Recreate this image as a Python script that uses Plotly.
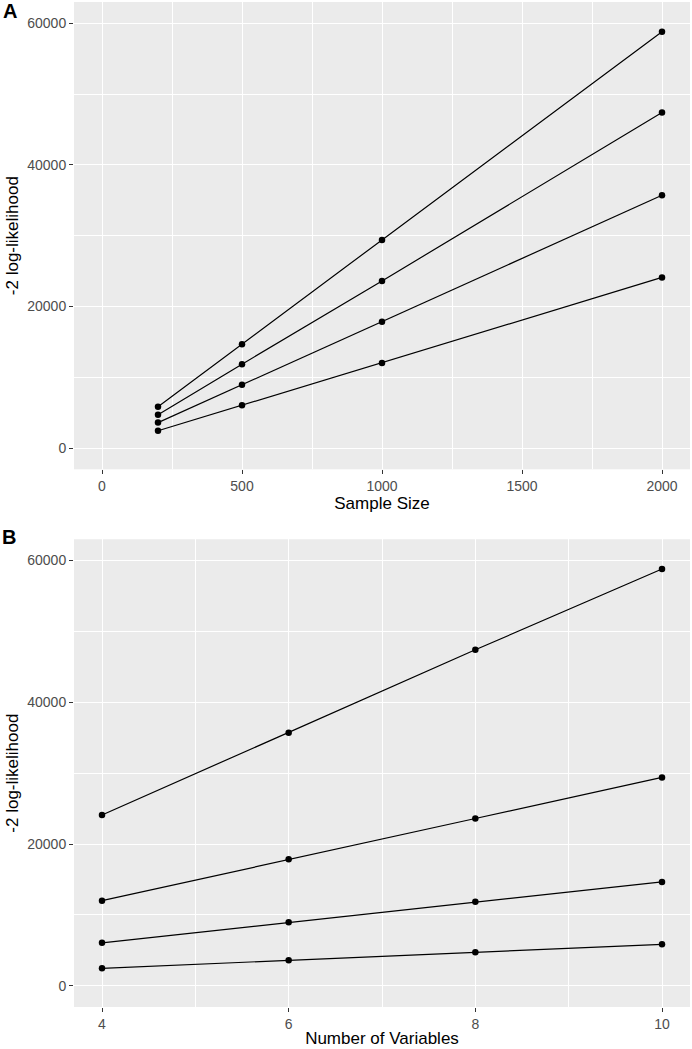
import plotly.graph_objects as go

# values
sample_sizes = [200, 500, 1000, 2000]
num_vars = [4, 6, 8, 10]

# -2 log-likelihood for each sample size, across number of variables
n200 = [2450, 3600, 4720, 5850]
n500 = [6050, 8950, 11850, 14650]
n1000 = [12000, 17850, 23600, 29400]
n2000 = [24100, 35700, 47400, 58800]

by_n = [n200, n500, n1000, n2000]

font_fam = "Liberation Sans, Arial, sans-serif"
bg = "#EBEBEB"

fig = go.Figure()

# panel A: one line per number of variables, x = sample size
for j in range(len(num_vars)):
    vals = [row[j] for row in by_n]
    fig.add_trace(go.Scatter(x=sample_sizes, y=vals, mode="lines+markers",
                             line=dict(color="black", width=1.2),
                             marker=dict(color="black", size=6.5),
                             xaxis="x", yaxis="y", showlegend=False))

# panel B: one line per sample size, x = number of variables
for row in by_n:
    fig.add_trace(go.Scatter(x=num_vars, y=row, mode="lines+markers",
                             line=dict(color="black", width=1.2),
                             marker=dict(color="black", size=6.5),
                             xaxis="x2", yaxis="y2", showlegend=False))

tickfont = dict(family=font_fam, size=14, color="#4D4D4D")
titlefont = dict(family=font_fam, size=17, color="black")

common = dict(showgrid=True, gridcolor="white", gridwidth=1.1, zeroline=False,
              showline=False, ticks="outside", ticklen=4, tickwidth=1,
              tickcolor="#333333", tickfont=tickfont, automargin=False)

yax = dict(common, range=[-3000, 63000], tick0=0, dtick=20000, tickformat="d",
           minor=dict(showgrid=True, gridcolor="white", gridwidth=0.55,
                      tick0=0, dtick=10000, ticks=""),
           title=dict(text="-2 log-likelihood", font=titlefont, standoff=4))

fig.update_layout(
    width=692, height=1049,
    paper_bgcolor="white", plot_bgcolor=bg,
    margin=dict(l=74, r=2, t=2, b=42),
    font=dict(family=font_fam),
    xaxis=dict(common, domain=[0, 1], anchor="y", range=[-100, 2100],
               tick0=0, dtick=500,
               minor=dict(showgrid=True, gridcolor="white", gridwidth=0.55,
                          tick0=0, dtick=250, ticks=""),
               title=dict(text="Sample Size", font=titlefont, standoff=1)),
    yaxis=dict(yax, domain=[0.535, 1], anchor="x"),
    xaxis2=dict(common, domain=[0, 1], anchor="y2", range=[3.7, 10.3],
                tick0=4, dtick=2,
                minor=dict(showgrid=True, gridcolor="white", gridwidth=0.55,
                           tick0=4, dtick=1, ticks=""),
                title=dict(text="Number of Variables", font=titlefont, standoff=1)),
    yaxis2=dict(yax, domain=[0, 0.4654], anchor="x2"),
    annotations=[
        dict(text="<b>A</b>", x=-0.104, y=0.991, xref="paper", yref="paper",
             showarrow=False, font=dict(family=font_fam, size=20, color="black"),
             xanchor="center", yanchor="middle"),
        dict(text="<b>B</b>", x=-0.106, y=0.4677, xref="paper", yref="paper",
             showarrow=False, font=dict(family=font_fam, size=20, color="black"),
             xanchor="center", yanchor="middle"),
    ],
)

# drop the default body margin so the figure fills the window exactly
fig.write_html("out.html", config={"displayModeBar": False},
               post_script="document.body.style.margin='0px';")
